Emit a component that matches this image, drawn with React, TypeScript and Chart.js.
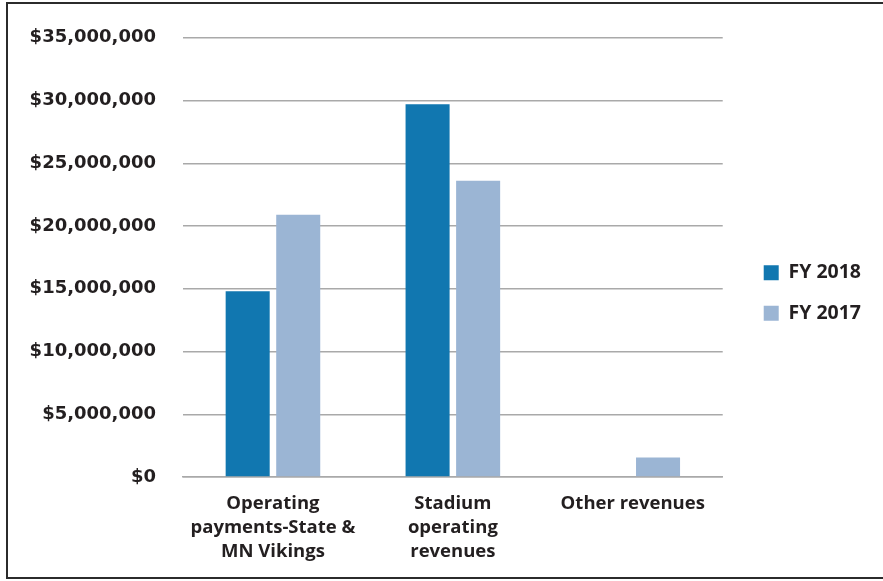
import React, { useEffect, useRef } from "react";
import { Chart, registerables } from "chart.js";

Chart.register(...registerables);

const categories: string[][] = [
  ["Operating", "payments-State &", "MN Vikings"],
  ["Stadium", "operating", "revenues"],
  ["Other revenues"],
];
const seriesNames = ["FY 2018", "FY 2017"];
const fy2018 = [14800000, 29700000, 0];
const fy2017 = [20900000, 23600000, 1550000];
const yMax = 35000000;
const yStep = 5000000;

const colors = ["#1177b0", "#9bb5d4"];
const textColor = "#231f20";

const legendShift = {
  id: "legendShift",
  afterUpdate(chart: any) {
    const l = chart.legend;
    if (!l) return;
    const dy = -14;
    const dx = 20;
    l.top += dy;
    l.bottom += dy;
    l.left += dx;
    l.right += dx;
  },
};

export default function App() {
  const ref = useRef<HTMLCanvasElement | null>(null);
  useEffect(() => {
    if (!ref.current) return;
    const chart = new Chart(ref.current, {
      type: "bar",
      data: {
        labels: categories,
        datasets: [
          { label: seriesNames[0], data: fy2018, backgroundColor: colors[0] },
          { label: seriesNames[1], data: fy2017, backgroundColor: colors[1] },
        ],
      },
      options: {
        animation: false,
        responsive: true,
        maintainAspectRatio: false,
        layout: { padding: { left: 23, top: 33, right: 32, bottom: 0 } },
        datasets: { bar: { categoryPercentage: 0.562, barPercentage: 0.871 } },
        scales: {
          x: {
            grid: { display: false },
            border: { color: "#a9a9a9", width: 1.5 },
            ticks: {
              color: textColor,
              padding: 7,
              maxRotation: 0,
              autoSkip: false,
              font: { family: "'Open Sans'", weight: "bold", size: 18.5, lineHeight: 1.3 },
            },
            afterFit: (s: any) => {
              s.height = 104;
            },
          },
          y: {
            min: 0,
            max: yMax,
            grid: { color: "#a9a9a9", lineWidth: 1.5, drawTicks: false },
            border: { display: false },
            ticks: {
              stepSize: yStep,
              color: textColor,
              padding: 27,
              font: { family: "'DejaVu Sans'", weight: "bold", size: 18 },
              callback: (v: any) => "$" + Number(v).toLocaleString("en-US"),
            },
            afterFit: (s: any) => {
              s.width = 160;
            },
          },
        },
        plugins: {
          legend: {
            position: "right",
            labels: {
              boxWidth: 15,
              boxHeight: 15,
              padding: 21,
              color: textColor,
              font: { family: "'Open Sans'", weight: "bold", size: 19.5 },
            },
          },
          tooltip: { enabled: false },
        },
      },
      plugins: [legendShift],
    });
    return () => chart.destroy();
  }, []);

  return (
    <div
      style={{
        position: "fixed",
        left: 0,
        top: 0,
        width: 883,
        height: 581,
        background: "#fff",
        overflow: "hidden",
      }}
    >
      <canvas ref={ref} style={{ position: "absolute", left: 0, top: 0 }} />
      <div
        style={{
          position: "absolute",
          left: 6,
          top: 2,
          width: 920,
          height: 577,
          boxSizing: "border-box",
          border: "2.5px solid #2b2b2b",
          pointerEvents: "none",
        }}
      />
    </div>
  );
}
